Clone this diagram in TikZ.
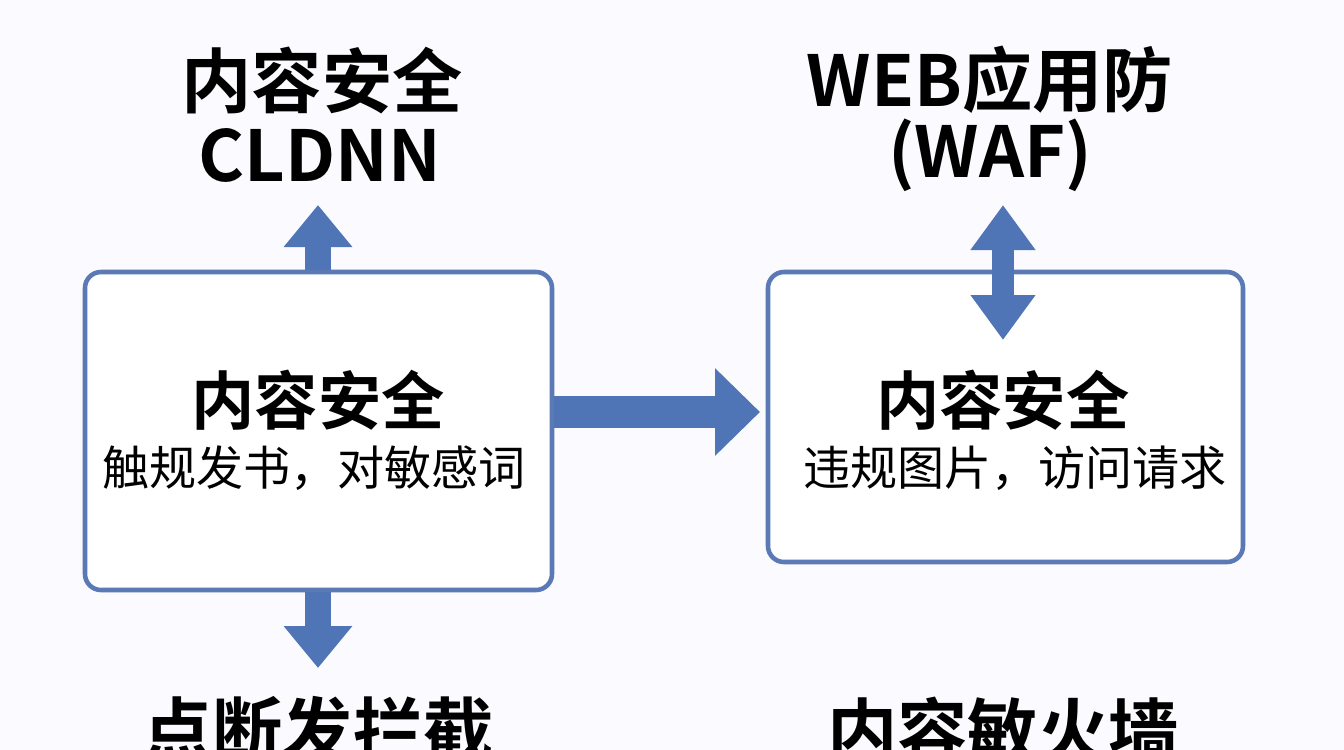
\documentclass[tikz,border=0pt]{standalone}
\usepackage{fontspec}
\setmainfont{Noto Sans CJK SC}
\newfontfamily\heavy{Noto Sans CJK SC Bold}
\usetikzlibrary{arrows.meta}
\definecolor{boxblue}{HTML}{5B79B4}
\definecolor{arrowblue}{HTML}{5075B6}
\tikzset{
  box/.style={draw=boxblue, line width=1.3pt, rounded corners=0.16cm, fill=white},
  bigtext/.style={font=\heavy\fontsize{20}{22}\selectfont},
  boxtitle/.style={font=\heavy\fontsize{18}{20}\selectfont},
  boxsub/.style={font=\fontsize{13.4}{15}\selectfont},
  fat/.style={draw=arrowblue, line width=0.26cm, -{Triangle[length=0.42cm,width=0.66cm]}}
}
\begin{document}
\begin{tikzpicture}
\useasboundingbox (0,0) rectangle (13.44,-7.5);
\clip (0,0) rectangle (13.44,-7.5);
\fill[white!98!blue] (0,0) rectangle (13.44,-7.5);
% boxes
\node[box, minimum width=4.67cm, minimum height=3.18cm] (left) at (3.185,-4.31) {};
\node[box, minimum width=4.75cm, minimum height=2.9cm] (right) at (10.055,-4.17) {};
% texts
\node[bigtext] (t1) at (3.22,-0.8) {内容安全};
\node[bigtext] (t2) at (3.2,-1.55) {CLDNN};
\node[bigtext] (t3) at (9.9,-0.8) {WEB应用防};
\node[bigtext] (t4) at (9.9,-1.55) {(WAF)};
\node[boxtitle] (l1) at (3.18,-4.0) {内容安全};
\node[boxsub] (l2) at (3.14,-4.68) {触规发书，对敏感词};
\node[boxtitle] (r1) at (10.03,-4.0) {内容安全};
\node[boxsub] (r2) at (10.15,-4.68) {违规图片，访问请求};
\node[bigtext] (b1) at (3.18,-7.3) {点断发拦截};
\node[bigtext] (b2) at (10.03,-7.3) {内容敏火墙};
% arrows
\coordinate (up) at (3.18,-2.05);
\coordinate (down) at (3.18,-6.68);
\coordinate (rt) at (7.6,-4.12);
\coordinate (wtop) at (10.03,-2.05);
\coordinate (wbot) at (10.03,-3.4);
\draw[fat] (left.north -| up) -- (up);
\draw[fat] (left.south -| down) -- (down);
\draw[fat, line width=0.32cm, -{Triangle[length=0.45cm,width=0.85cm]}] (left.east |- rt) -- (rt);
\draw[fat, line width=0.22cm, {Triangle[length=0.45cm,width=0.62cm]}-{Triangle[length=0.45cm,width=0.62cm]}] (wtop) -- (wbot);
\end{tikzpicture}
\end{document}
